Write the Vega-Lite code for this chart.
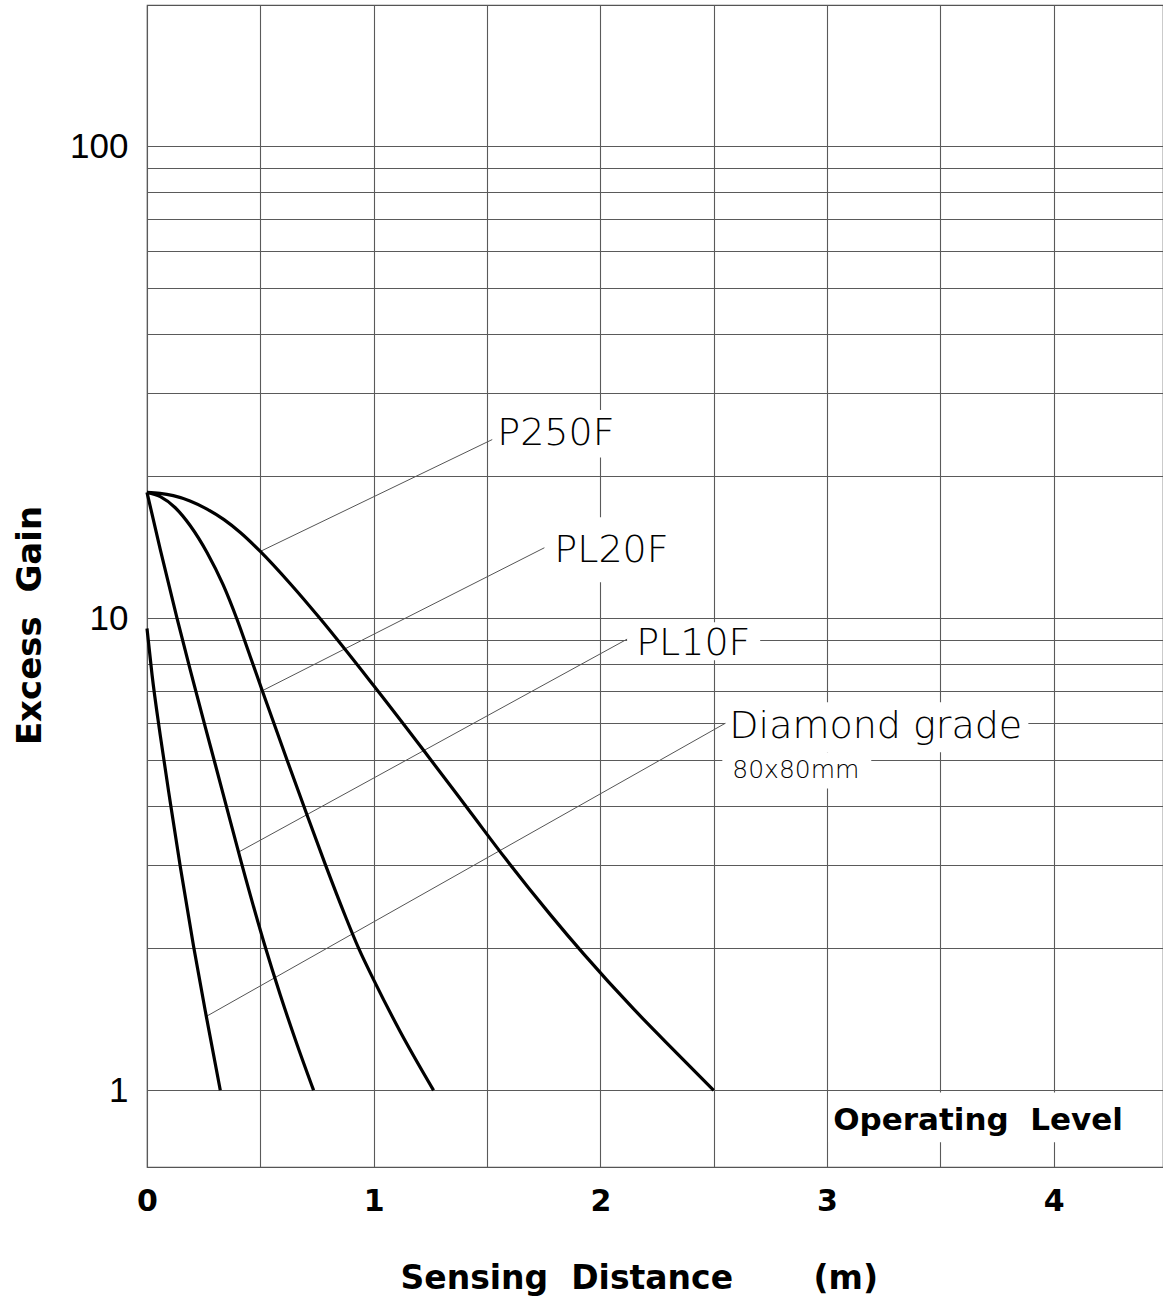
{
  "$schema": "https://vega.github.io/schema/vega-lite/v6.json",
  "width": 1016,
  "height": 1162,
  "autosize": {"type": "none"},
  "padding": {"left": 147, "top": 5, "right": 0, "bottom": 134},
  "background": "white",
  "config": {
    "view": {"stroke": "#555555", "strokeWidth": 1.2},
    "axis": {"gridColor": "#5a5a5a", "gridWidth": 1.1, "gridOpacity": 1, "ticks": false, "domain": false, "labelColor": "#000000", "titleColor": "#000000"}
  },
  "datasets": {
    "curves": [
      {"series": "P250F", "distance": 0, "gain": 18.47},
      {"series": "P250F", "distance": 0.0573, "gain": 18.39},
      {"series": "P250F", "distance": 0.116, "gain": 18.18},
      {"series": "P250F", "distance": 0.1897, "gain": 17.72},
      {"series": "P250F", "distance": 0.2647, "gain": 17.03},
      {"series": "P250F", "distance": 0.3397, "gain": 16.17},
      {"series": "P250F", "distance": 0.4116, "gain": 15.19},
      {"series": "P250F", "distance": 0.4998, "gain": 13.85},
      {"series": "P250F", "distance": 0.6321, "gain": 11.83},
      {"series": "P250F", "distance": 0.7644, "gain": 9.97},
      {"series": "P250F", "distance": 0.9996, "gain": 7.2},
      {"series": "P250F", "distance": 1.2201, "gain": 5.25},
      {"series": "P250F", "distance": 1.4261, "gain": 3.886},
      {"series": "P250F", "distance": 1.5805, "gain": 3.1},
      {"series": "P250F", "distance": 1.779, "gain": 2.356},
      {"series": "P250F", "distance": 1.926, "gain": 1.945},
      {"series": "P250F", "distance": 2.1465, "gain": 1.487},
      {"series": "P250F", "distance": 2.338, "gain": 1.198},
      {"series": "P250F", "distance": 2.5, "gain": 1.0},
      {"series": "PL20F", "distance": 0, "gain": 18.47},
      {"series": "PL20F", "distance": 0.0587, "gain": 18.1},
      {"series": "PL20F", "distance": 0.1248, "gain": 17.14},
      {"series": "PL20F", "distance": 0.191, "gain": 15.7},
      {"series": "PL20F", "distance": 0.2647, "gain": 13.78},
      {"series": "PL20F", "distance": 0.3366, "gain": 11.75},
      {"series": "PL20F", "distance": 0.397, "gain": 9.95},
      {"series": "PL20F", "distance": 0.4557, "gain": 8.29},
      {"series": "PL20F", "distance": 0.5086, "gain": 7.02},
      {"series": "PL20F", "distance": 0.6189, "gain": 4.99},
      {"series": "PL20F", "distance": 0.6908, "gain": 4.01},
      {"series": "PL20F", "distance": 0.7864, "gain": 3.01},
      {"series": "PL20F", "distance": 0.8747, "gain": 2.34},
      {"series": "PL20F", "distance": 0.9334, "gain": 2.0},
      {"series": "PL20F", "distance": 0.9995, "gain": 1.716},
      {"series": "PL20F", "distance": 1.1173, "gain": 1.331},
      {"series": "PL20F", "distance": 1.2642, "gain": 1.0},
      {"series": "PL10F", "distance": 0, "gain": 18.47},
      {"series": "PL10F", "distance": 0.0587, "gain": 13.97},
      {"series": "PL10F", "distance": 0.1323, "gain": 10.0},
      {"series": "PL10F", "distance": 0.191, "gain": 7.76},
      {"series": "PL10F", "distance": 0.2572, "gain": 5.88},
      {"series": "PL10F", "distance": 0.3013, "gain": 4.9},
      {"series": "PL10F", "distance": 0.3529, "gain": 3.95},
      {"series": "PL10F", "distance": 0.416, "gain": 3.04},
      {"series": "PL10F", "distance": 0.5174, "gain": 2.044},
      {"series": "PL10F", "distance": 0.588, "gain": 1.592},
      {"series": "PL10F", "distance": 0.663, "gain": 1.246},
      {"series": "PL10F", "distance": 0.7349, "gain": 1.0},
      {"series": "Diamond grade", "distance": 0, "gain": 9.51},
      {"series": "Diamond grade", "distance": 0.022, "gain": 7.61},
      {"series": "Diamond grade", "distance": 0.0587, "gain": 5.64},
      {"series": "Diamond grade", "distance": 0.1028, "gain": 4.07},
      {"series": "Diamond grade", "distance": 0.1469, "gain": 2.975},
      {"series": "Diamond grade", "distance": 0.2056, "gain": 2.016},
      {"series": "Diamond grade", "distance": 0.2616, "gain": 1.434},
      {"series": "Diamond grade", "distance": 0.3233, "gain": 1.0}
    ],
    "leaders": [
      {"label": "P250F", "distance": 0.4998, "gain": 13.85},
      {"label": "P250F", "distance": 1.523, "gain": 23.9},
      {"label": "PL20F", "distance": 0.5086, "gain": 7.02},
      {"label": "PL20F", "distance": 1.753, "gain": 14.1},
      {"label": "PL10F", "distance": 0.404, "gain": 3.196},
      {"label": "PL10F", "distance": 2.118, "gain": 9.03},
      {"label": "Diamond grade", "distance": 0.2616, "gain": 1.434},
      {"label": "Diamond grade", "distance": 2.551, "gain": 5.99}
    ],
    "masks": [
      {"label": "P250F", "distance": 1.514, "distance2": 2.13, "gain": 21.9, "gain2": 27.6},
      {"label": "PL20F", "distance": 1.772, "distance2": 2.375, "gain": 11.92, "gain2": 16.37},
      {"label": "PL10F", "distance": 2.118, "distance2": 2.705, "gain": 8.15, "gain2": 9.8},
      {"label": "Diamond grade", "distance": 2.551, "distance2": 3.888, "gain": 5.2, "gain2": 6.64},
      {"label": "80x80mm", "distance": 2.538, "distance2": 3.195, "gain": 4.36, "gain2": 5.2},
      {"label": "Operating Level", "distance": 3.006, "distance2": 4.293, "gain": 0.776, "gain2": 0.99}
    ],
    "cadLabels": [
      {"text": "P250F", "distance": 1.545, "gain": 23.26},
      {"text": "PL20F", "distance": 1.797, "gain": 13.14},
      {"text": "PL10F", "distance": 2.158, "gain": 8.35},
      {"text": "Diamond grade", "distance": 2.569, "gain": 5.57}
    ],
    "smallLabels": [
      {"text": "80x80mm", "distance": 2.582, "gain": 4.58}
    ],
    "boldLabels": [
      {"text": "Operating\u00a0\u00a0Level", "distance": 3.027, "gain": 0.823}
    ]
  },
  "encoding": {
    "x": {
      "field": "distance",
      "type": "quantitative",
      "scale": {"domain": [0, 4.482], "nice": false, "zero": false},
      "axis": {
        "values": [0, 0.5, 1, 1.5, 2, 2.5, 3, 3.5, 4],
        "labelExpr": "datum.value % 1 === 0 ? format(datum.value, 'd') : ''",
        "labelFont": "DejaVu Sans",
        "labelFontWeight": "bold",
        "labelFontSize": 30,
        "labelPadding": 19,
        "labelFlush": false,
        "labelOverlap": false,
        "title": "Sensing\u00a0\u00a0Distance\u00a0\u00a0\u00a0\u00a0\u00a0\u00a0\u00a0(m)",
        "titleFont": "DejaVu Sans",
        "titleFontWeight": "bold",
        "titleFontSize": 33,
        "titleAnchor": null,
        "titleAlign": "left",
        "titleBaseline": "alphabetic",
        "titleX": 253,
        "titleY": 121
      }
    },
    "y": {
      "field": "gain",
      "type": "quantitative",
      "scale": {"type": "log", "domain": [0.688, 199], "nice": false},
      "axis": {
        "values": [1, 2, 3, 4, 5, 6, 7, 8, 9, 10, 20, 30, 40, 50, 60, 70, 80, 90, 100],
        "labelExpr": "datum.value === 1 || datum.value === 10 || datum.value === 100 ? format(datum.value, 'd') : ''",
        "labelFont": "Liberation Sans",
        "labelFontSize": 35,
        "labelPadding": 19,
        "labelBaseline": "middle",
        "labelFlush": false,
        "labelOverlap": false,
        "title": "Excess\u00a0\u00a0Gain",
        "titleFont": "DejaVu Sans",
        "titleFontWeight": "bold",
        "titleFontSize": 34,
        "titleAngle": 270,
        "titleAlign": "center",
        "titleBaseline": "alphabetic",
        "titleAnchor": null,
        "titleX": -107,
        "titleY": 620
      }
    }
  },
  "layer": [
    {
      "data": {"name": "masks"},
      "mark": {"type": "rect", "fill": "white", "stroke": null},
      "encoding": {
        "x2": {"field": "distance2"},
        "y2": {"field": "gain2"}
      }
    },
    {
      "data": {"name": "leaders"},
      "mark": {"type": "line", "stroke": "#555555", "strokeWidth": 1},
      "encoding": {"detail": {"field": "label", "type": "nominal"}}
    },
    {
      "data": {"name": "curves"},
      "mark": {"type": "line", "stroke": "#000000", "strokeWidth": 3.2, "interpolate": "monotone", "strokeCap": "butt"},
      "encoding": {"detail": {"field": "series", "type": "nominal"}}
    },
    {
      "data": {"name": "cadLabels"},
      "mark": {"type": "text", "align": "left", "baseline": "alphabetic", "font": "DejaVu Sans", "fontWeight": 200, "fontSize": 38, "fill": "#000000"},
      "encoding": {"text": {"field": "text"}}
    },
    {
      "data": {"name": "smallLabels"},
      "mark": {"type": "text", "align": "left", "baseline": "alphabetic", "font": "DejaVu Sans", "fontWeight": 200, "fontSize": 25, "fill": "#000000"},
      "encoding": {"text": {"field": "text"}}
    },
    {
      "data": {"name": "boldLabels"},
      "mark": {"type": "text", "align": "left", "baseline": "alphabetic", "font": "DejaVu Sans", "fontWeight": "bold", "fontSize": 31, "fill": "#000000"},
      "encoding": {"text": {"field": "text"}}
    }
  ]
}
